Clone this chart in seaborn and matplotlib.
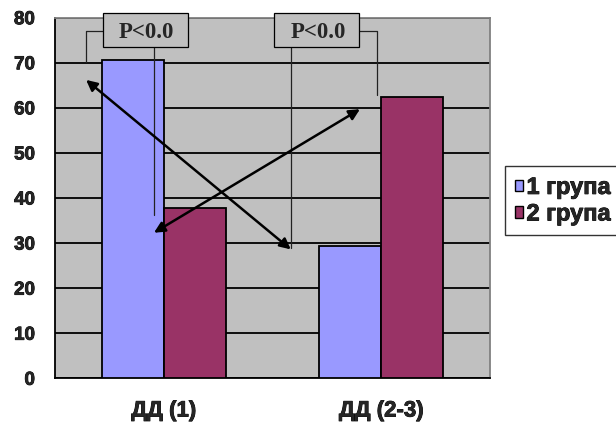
import matplotlib
matplotlib.use("Agg")
import matplotlib.pyplot as plt
import matplotlib.patches as mpatches
import matplotlib.patheffects as pe
from matplotlib.transforms import Bbox, TransformedBbox
import seaborn as sns
import pandas as pd

categories = ["ДД (1)", "ДД (2-3)"]
groups = ["1 група", "2 група"]
group1_values = [70.6, 29.4]
group2_values = [37.7, 62.3]
y_ticks = [0, 10, 20, 30, 40, 50, 60, 70, 80]
p_label = "P<0.0"

df = pd.DataFrame({
    "category": categories * 2,
    "group": [groups[0]] * 2 + [groups[1]] * 2,
    "value": group1_values + group2_values,
})

sns.set_theme(style="white")
plt.rcParams["font.family"] = ["Liberation Sans", "DejaVu Sans"]
plt.rcParams["font.weight"] = "bold"

heavy = [pe.withStroke(linewidth=0.6, foreground="black")]

fig = plt.figure(figsize=(6.16, 4.25), dpi=100)
ax = fig.add_axes([55 / 616, 1 - 378.3 / 425, 435 / 616, 360.6 / 425])
ax.set_facecolor("#C0C0C0")

sns.barplot(data=df, x="category", y="value", hue="group",
            palette=["#9999FF", "#993366"], saturation=1, width=0.57,
            edgecolor="black", linewidth=1.3, ax=ax, zorder=3)

ax.set_ylim(0, 80)
ax.set_xlim(-0.5, 1.5)
ax.set_yticks(y_ticks)
ax.set_yticklabels([str(v) for v in y_ticks], fontweight="bold")
ax.set_xticks([-0.5, 0.5, 1.5], minor=False)
ax.set_xticks([0, 1], minor=True)
ax.set_xticklabels([])
ax.set_xticklabels(categories, minor=True, fontweight="bold")
ax.set_xlabel("")
ax.set_ylabel("")
ax.yaxis.grid(True, color="black", linewidth=1.3, zorder=1)
ax.set_axisbelow(True)

ax.tick_params(axis="y", which="major", direction="out", length=6, width=1.3,
               color="black", pad=8.5, labelsize=13.5)
ax.tick_params(axis="x", which="major", direction="out", length=6, width=1.3,
               color="black")
ax.tick_params(axis="x", which="minor", length=0, pad=16, labelsize=16)
for lab in ax.get_yticklabels() + ax.get_xticklabels(minor=True):
    lab.set_path_effects(heavy)

for side in ["left", "bottom"]:
    ax.spines[side].set_color("black")
    ax.spines[side].set_linewidth(1.3)
for side in ["top", "right"]:
    ax.spines[side].set_color("#808080")
    ax.spines[side].set_linewidth(1.3)

# legend
handles, labels = ax.get_legend_handles_labels()
leg = ax.legend(handles, labels, loc="upper left",
                bbox_to_anchor=(505 / 616, 1 - 166 / 425),
                bbox_transform=fig.transFigure, frameon=True, fancybox=False,
                edgecolor="black", prop={"size": 17, "weight": "bold"},
                handlelength=0.35, handleheight=0.35, handletextpad=0.14,
                labelspacing=0.15, borderpad=0.42, borderaxespad=0)
leg.get_frame().set_linewidth(1.0)
for t in leg.get_texts():
    t.set_path_effects(heavy)
for h in leg.legend_handles:
    h.set_edgecolor("black")
    h.set_linewidth(1.0)

# double-headed arrows between compared bars
arrow_style = dict(arrowstyle="<|-|>", color="black", lw=1.8,
                   mutation_scale=16, shrinkA=0, shrinkB=0)
ax.annotate("", xy=(-0.357, 66.2), xytext=(0.584, 28.6),
            arrowprops=arrow_style, zorder=6, annotation_clip=False)
ax.annotate("", xy=(-0.045, 32.3), xytext=(0.902, 59.7),
            arrowprops=arrow_style, zorder=6, annotation_clip=False)

# callout boxes with significance labels
def callout(x0, x1, lead_x, lead_y_end, stem_x, stem_y_end, side):
    y_top, y_bot, y_mid = 81.0, 73.4, 77.1
    box = mpatches.Rectangle((x0, y_bot), x1 - x0, y_top - y_bot,
                             facecolor="#C0C0C0", edgecolor="black",
                             linewidth=0.9, zorder=7, clip_on=False)
    ax.add_patch(box)
    edge = x0 if side == "left" else x1
    ax.plot([edge, lead_x, lead_x], [y_mid, y_mid, lead_y_end],
            color="#222222", lw=0.9, zorder=5, clip_on=False)
    ax.plot([stem_x, stem_x], [y_bot, stem_y_end],
            color="#222222", lw=0.9, zorder=5, clip_on=False)
    txt = ax.text(x0 + 0.074, 79.1, p_label, ha="left", va="top",
                  fontsize=16.5, fontweight="bold",
                  family=["Liberation Serif", "DejaVu Serif"], zorder=8)
    txt.set_clip_on(True)
    txt.set_clip_box(TransformedBbox(Bbox([[x0, 74.65], [x1, y_top]]),
                                     ax.transData))

callout(-0.281, 0.113, -0.358, 70.2, -0.045, 36.2, "left")
callout(0.508, 0.899, 0.979, 62.9, 0.584, 28.9, "right")

fig.savefig("out.png", dpi=100)
